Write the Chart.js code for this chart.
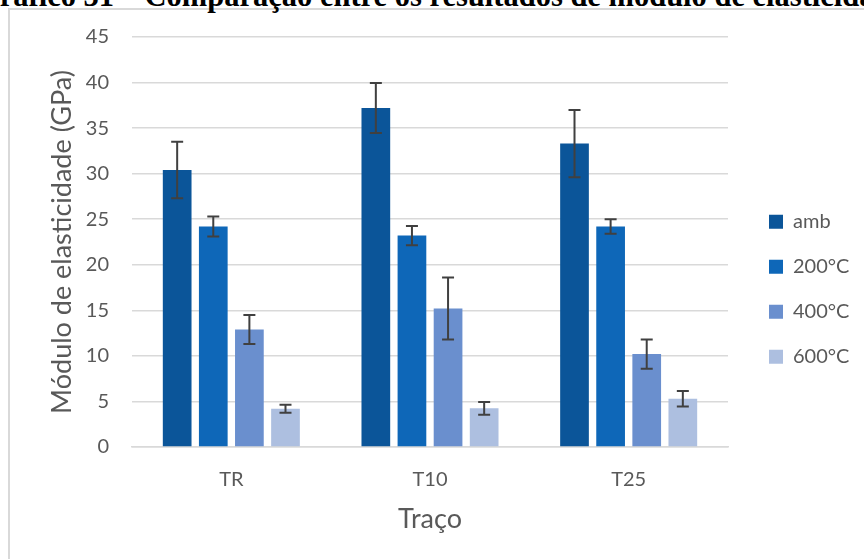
<!DOCTYPE html>
<html>
<head>
<meta charset="utf-8">
<script src="https://cdn.jsdelivr.net/npm/chart.js@4.4.1/dist/chart.umd.min.js"></script>
<style>
  html, body { margin: 0; padding: 0; background: #fff; overflow: hidden; }
  #frame { position: absolute; left: 8px; top: 8px; width: 920px; height: 620px; border: 2px solid #d9d9d9; }
  #caption { position: absolute; left: -24px; top: -19px; font: bold 30.5px "Liberation Serif", serif; line-height: 1; white-space: nowrap; color: #000; }
  #wrap { position: absolute; left: 0; top: 0; width: 864px; height: 559px; }
</style>
</head>
<body>
<div id="frame"></div>
<div id="caption">Gráfico 31 – Comparação entre os resultados de módulo de elasticidade</div>
<div id="wrap"><canvas id="modChart" width="864" height="559"></canvas></div>
<script>
const categories = ['TR', 'T10', 'T25'];
const seriesNames = ['amb', '200°C', '400°C', '600°C'];
const ambValues = [30.4, 37.2, 33.3];
const t200Values = [24.2, 23.2, 24.2];
const t400Values = [12.9, 15.2, 10.2];
const t600Values = [4.2, 4.25, 5.3];
const ambErrors = [3.1, 2.75, 3.7];
const t200Errors = [1.1, 1.05, 0.8];
const t400Errors = [1.6, 3.4, 1.6];
const t600Errors = [0.45, 0.7, 0.85];
const yMin = 0, yMax = 45, yStep = 5;

const colors = ['#0b5599', '#0e67b8', '#6a8fce', '#adbfe0'];
const allValues = [ambValues, t200Values, t400Values, t600Values];
const allErrors = [ambErrors, t200Errors, t400Errors, t600Errors];
const textGray = '#595959';
const fontFamily = 'Lato, "Open Sans", sans-serif';
const labelSize = 20;
const legendPad = 25;

// barras de erro desenhadas por cima das barras
const errorBars = {
    id: 'errorBars',
    afterDatasetsDraw(chart) {
        const ctx = chart.ctx;
        const yScale = chart.scales.y;
        ctx.save();
        ctx.strokeStyle = '#404040';
        ctx.lineWidth = 2;
        chart.data.datasets.forEach((ds, i) => {
            const meta = chart.getDatasetMeta(i);
            meta.data.forEach((bar, j) => {
                const v = ds.data[j], e = ds.errors[j];
                const top = yScale.getPixelForValue(v + e);
                const bot = yScale.getPixelForValue(v - e);
                ctx.beginPath();
                ctx.moveTo(bar.x, top); ctx.lineTo(bar.x, bot);
                ctx.moveTo(bar.x - 6, top); ctx.lineTo(bar.x + 6, top);
                ctx.moveTo(bar.x - 6, bot); ctx.lineTo(bar.x + 6, bot);
                ctx.stroke();
            });
        });
        ctx.restore();
    }
};

// largura da legenda para deixar a área do gráfico terminar em x=728
const canvas = document.getElementById('modChart');
const mctx = canvas.getContext('2d');
mctx.font = labelSize + 'px ' + fontFamily;
const textW = Math.max(...seriesNames.map(n => mctx.measureText(n).width));
const legendW = legendPad + 14 + labelSize / 2 + textW + 10;
const padRight = Math.max(0, 864 - 744 - legendW);

Chart.defaults.font.family = fontFamily;
Chart.defaults.color = textGray;

new Chart(canvas, {
    type: 'bar',
    data: {
        labels: categories,
        datasets: seriesNames.map((name, i) => ({
            label: name,
            data: allValues[i],
            errors: allErrors[i],
            backgroundColor: colors[i],
            categoryPercentage: 0.727,
            barPercentage: 0.795
        }))
    },
    options: {
        responsive: false,
        animation: false,
        layout: { padding: { left: 43, top: 37, right: padRight, bottom: 20 } },
        plugins: {
            tooltip: { enabled: false },
            legend: {
                position: 'right',
                align: 'start',
                title: { display: true, text: '', font: { size: 10 }, padding: { top: 137.7, bottom: 0 } },
                labels: { boxWidth: 14, boxHeight: 14, padding: legendPad, font: { size: labelSize }, color: textGray }
            }
        },
        scales: {
            x: {
                grid: { display: false },
                border: { display: true, color: '#d9d9d9', width: 1.5 },
                ticks: { font: { size: labelSize }, padding: 13, color: textGray },
                title: { display: true, text: 'Traço', font: { size: 27 }, color: textGray, padding: { top: 4, bottom: 4 } },
                afterFit(s) { s.height = 92; }
            },
            y: {
                min: yMin, max: yMax,
                ticks: { stepSize: yStep, font: { size: labelSize }, padding: 23, color: textGray },
                grid: { color: '#d9d9d9', lineWidth: 1.5, drawTicks: false },
                border: { display: false },
                title: { display: true, text: 'Módulo de elasticidade (GPa)', font: { size: 27 }, color: textGray, padding: { top: 3, bottom: 4 } },
                afterFit(s) { s.width = 89; }
            },
            yPad: {
                type: 'linear', position: 'right', display: true,
                grid: { display: false }, ticks: { display: false }, border: { display: false },
                afterFit(s) { s.width = 744 - 728; }
            }
        }
    },
    plugins: [errorBars]
});
</script>
</body>
</html>
